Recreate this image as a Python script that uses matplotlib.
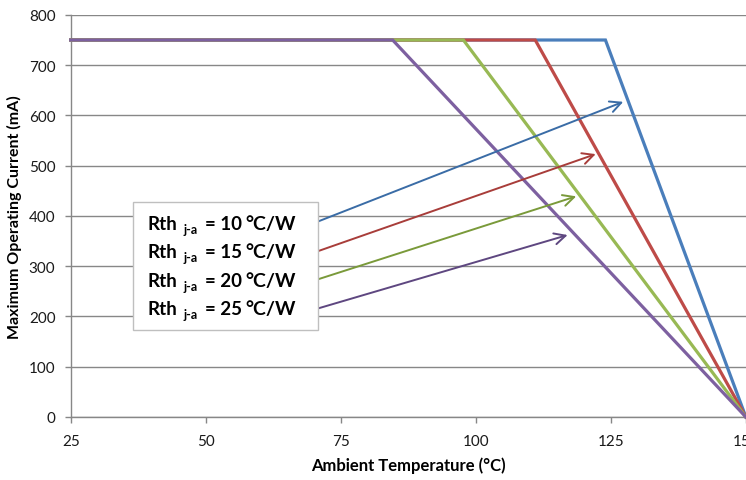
import matplotlib
matplotlib.use('Agg')
import matplotlib.pyplot as plt
from matplotlib.patches import Rectangle

plt.rcParams['font.family'] = ['Lato', 'DejaVu Sans']

# derating curves: flat at max current, then linear down to zero at 150 C
rth_values = [10, 15, 20, 25]
break_temps = [124, 111, 97.7, 84.6]
max_current = 750
t_max = 150
line_colors = ['#4A7EBB', '#BE4B48', '#98B954', '#7D60A0']
arrow_colors = ['#3A6CA6', '#A83D3A', '#7A9A3A', '#5E4780']

# arrow starts (at the legend box) and tips (on each curve)
arrow_start_x = [70.8, 70.8, 70.8, 70.8]
arrow_start_y = [389, 330, 274, 216]
arrow_tip_x = [127.3, 122.2, 118.6, 117.0]
arrow_tip_y = [627, 523, 439, 362]

xticks = [25, 50, 75, 100, 125, 150]
yticks = [0, 100, 200, 300, 400, 500, 600, 700, 800]

fig = plt.figure(figsize=(7.46, 4.81), dpi=100)
ax = fig.add_axes([0.0948, 0.131, 0.905, 0.836])

for tb, col in zip(break_temps, line_colors):
    ax.plot([25, tb, t_max], [max_current, max_current, 0], color=col, lw=2.3,
            solid_joinstyle='miter', zorder=3, clip_on=False)

for i in range(4):
    ax.annotate('', xy=(arrow_tip_x[i], arrow_tip_y[i]),
                xytext=(arrow_start_x[i], arrow_start_y[i]),
                arrowprops=dict(arrowstyle='->', color=arrow_colors[i], lw=1.4,
                                mutation_scale=20, shrinkA=0, shrinkB=0),
                zorder=4)

# legend-like box
box = Rectangle((36.5, 173.7), 34.3, 254.8, facecolor='white', edgecolor='#BFBFBF',
                lw=1.0, zorder=5)
ax.add_patch(box)
base_y = [374, 317.8, 261.4, 205]
for r, y in zip(rth_values, base_y):
    ax.text(39.2, y, 'Rth', fontsize=13.5, fontweight='bold', va='baseline', zorder=6)
    ax.text(45.9, y - 8, 'j-a', fontsize=9, fontweight='bold', va='baseline', zorder=6)
    ax.text(49.8, y, f'= {r}', fontsize=13.5, fontweight='bold', va='baseline', zorder=6)
    ax.text(57.4, y, '°C/W', fontsize=14, fontweight='bold', va='baseline', zorder=6)

ax.set_xlim(25, 150)
ax.set_ylim(0, 800)
ax.set_xticks(xticks)
ax.set_yticks(yticks)
ax.yaxis.grid(True, color='#878787', lw=1.0)
ax.set_axisbelow(True)
for s in ['top', 'right']:
    ax.spines[s].set_visible(False)
for s in ['left', 'bottom']:
    ax.spines[s].set_color('#878787')
    ax.spines[s].set_linewidth(1.0)
ax.tick_params(axis='both', colors='#878787', length=4, width=1.0,
               labelcolor='#1A1A1A', labelsize=11)
ax.tick_params(axis='y', pad=7)
ax.tick_params(axis='x', pad=8)
ax.set_xlabel('Ambient Temperature (°C)', fontsize=12, fontweight='bold', labelpad=6)
ax.set_ylabel('Maximum Operating Current (mA)', fontsize=11.5, fontweight='bold', labelpad=5)

fig.savefig('out.png', dpi=100)
